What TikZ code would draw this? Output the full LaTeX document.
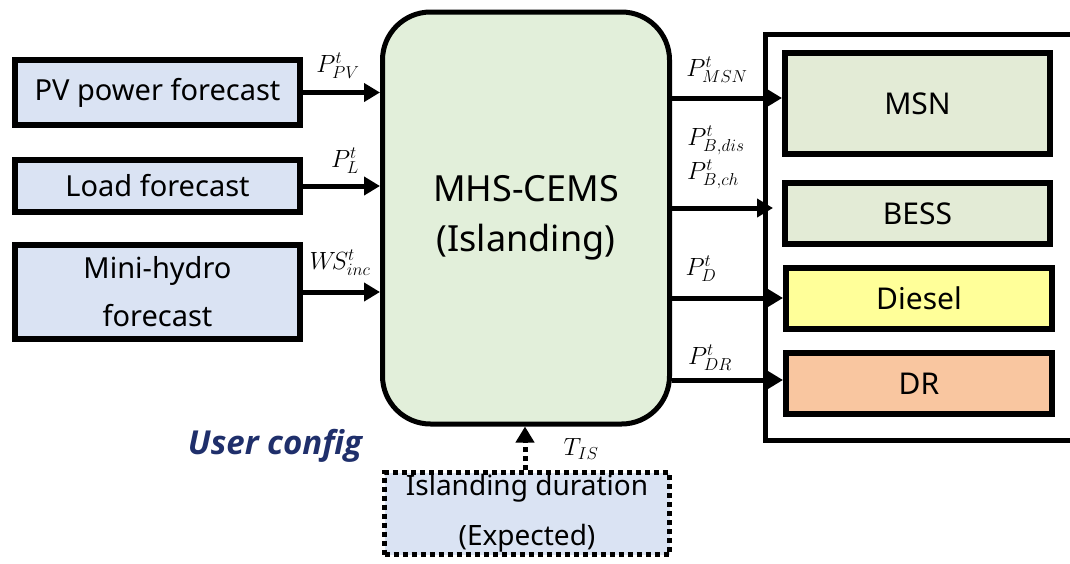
\documentclass[tikz,border=0pt]{standalone}
\usepackage{fontspec}
\setmainfont{Noto Sans}
\newfontfamily\cfgfont{Open Sans}
\usetikzlibrary{arrows.meta}
\DeclareMathSizes{25}{25}{19}{15}
\definecolor{inblue}{HTML}{DAE3F3}
\definecolor{cengreen}{HTML}{E2EFDA}
\definecolor{olivebox}{HTML}{E3EBD6}
\definecolor{dieselyel}{HTML}{FFFF99}
\definecolor{drorange}{HTML}{F9C6A0}
\definecolor{navy}{HTML}{1F2F6B}
\begin{document}
\begin{tikzpicture}[x=1pt,y=-1pt,
  box/.style={draw, line width=6pt, rectangle, inner sep=0pt, align=center,
    font=\fontsize{29}{48}\selectfont},
  inbox/.style={box, fill=inblue, minimum width=285pt},
  outbox/.style={box, minimum height=61pt, font=\fontsize{30}{34}\selectfont},
  flow/.style={line width=5pt, -{Triangle[length=16pt,width=18pt]}},
  lbl/.style={inner sep=0pt, font=\fontsize{25}{28}\selectfont}
]
\clip (0,0) rectangle (1070,563);

% input forecasts
\node[inbox, minimum height=65pt] (pv) at (157.5,92.5) {PV power forecast};
\node[inbox, minimum height=52pt] (load) at (157.5,186) {Load forecast};
\node[inbox, minimum height=94pt] (hydro) at (157.5,292) {Mini-hydro\\forecast};

% controller
\node[draw, line width=5pt, rounded corners=48pt, fill=cengreen,
  minimum width=287pt, minimum height=412pt, inner sep=0pt, align=center,
  font=\fontsize{36}{50}\selectfont] (cen) at (526,218) {MHS-CEMS\\(Islanding)};

% controlled units
\draw[line width=5pt] (1080,34.5) -| (765.5,440.5) -- (1080,440.5);
\node[outbox, fill=olivebox, minimum width=265pt, minimum height=101pt] (msn) at (917.5,103.5) {MSN};
\node[outbox, fill=olivebox, minimum width=265pt] (bess) at (917.5,213.5) {BESS};
\node[outbox, fill=dieselyel, minimum width=266pt] (diesel) at (919,298.5) {Diesel};
\node[outbox, fill=drorange, minimum width=266pt] (dr) at (919,383.5) {DR};

% user input
\node[draw, line width=5pt, dash pattern=on 5pt off 4pt, fill=inblue,
  minimum width=285pt, minimum height=82pt, inner sep=0pt, align=center,
  font=\fontsize{28}{50}\selectfont] (isl) at (527,513.5) {Islanding duration\\(Expected)};
\node[font=\cfgfont\fontsize{33}{38}\selectfont\bfseries\itshape, text=navy, inner sep=0pt]
  (ucfg) at (275,446) {User config};

% input flows
\draw[flow] (pv.east) -- (pv.east -| cen.west);
\draw[flow] (load.east) -- (load.east -| cen.west);
\draw[flow] (hydro.east) -- (hydro.east -| cen.west);
\node[lbl] (lpv) at (338,66) {$P_{PV}^{t}$};
\node[lbl] (lload) at (345,161) {$P_{L}^{t}$};
\node[lbl] (lhyd) at (340,263) {$W\!S_{inc}^{t}$};

% output flows
\coordinate (tmsn) at ([yshift=5.5pt]msn.west);
\coordinate (tbess) at ([xshift=-9pt,yshift=5.5pt]bess.west);
\coordinate (tdie) at ([yshift=0.5pt]diesel.west);
\coordinate (tdr) at ([yshift=3.5pt]dr.west);
\draw[flow] (cen.east |- tmsn) -- (tmsn);
\draw[flow] (cen.east |- tbess) -- (tbess);
\draw[flow] (cen.east |- tdie) -- (tdie);
\draw[flow] (cen.east |- tdr) -- (tdr);
\node[lbl] (lmsn) at (717,70) {$P_{MSN}^{t}$};
\node[lbl] (ldis) at (716,140) {$P_{B,dis}^{t}$};
\node[lbl] (lch) at (713,174) {$P_{B,ch}^{t}$};
\node[lbl] (ldie) at (701,269) {$P_{D}^{t}$};
\node[lbl] (ldr) at (710,358) {$P_{DR}^{t}$};

% islanding duration flow
\draw[line width=5pt, dash pattern=on 5pt off 4pt, -{Triangle[length=16pt,width=18pt]}]
  ([xshift=-2pt]isl.north) -- ([xshift=-2pt]isl.north |- cen.south);
\node[lbl] (lts) at (581,449) {$T_{IS}$};
\end{tikzpicture}
\end{document}
